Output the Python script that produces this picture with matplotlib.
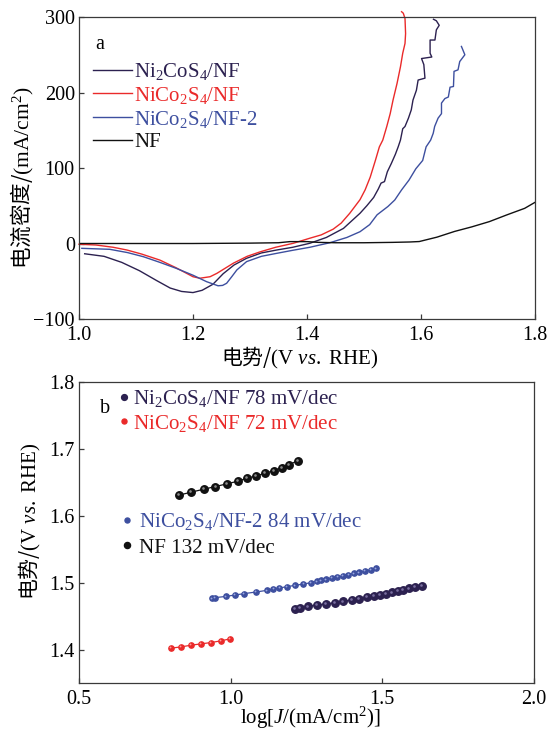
import matplotlib
matplotlib.use("Agg")
import matplotlib.pyplot as plt
from matplotlib.lines import Line2D
from matplotlib import transforms

plt.rcParams['font.family'] = ['Liberation Serif', 'Noto Sans CJK SC']
plt.rcParams['mathtext.fontset'] = 'custom'
plt.rcParams['mathtext.rm'] = 'Liberation Serif'
plt.rcParams['mathtext.it'] = 'Liberation Serif:italic'
plt.rcParams['font.size'] = 14.5
plt.rcParams['axes.unicode_minus'] = True

PURPLE = '#2c2150'
RED = '#ea2a2a'
BLUE = '#3d4f9f'
BLACK = '#111111'

# ---------- panel a: polarisation curves ----------
ni2cos4_v = [1.010, 1.044, 1.075, 1.106, 1.136, 1.160, 1.180, 1.200, 1.216, 1.235,
             1.253, 1.272, 1.294, 1.320, 1.347, 1.375, 1.405, 1.434, 1.464, 1.493,
             1.505, 1.517, 1.525, 1.530, 1.536, 1.541, 1.548, 1.555, 1.560, 1.564,
             1.568, 1.572, 1.578, 1.583, 1.586, 1.592, 1.595, 1.607, 1.605, 1.601,
             1.619, 1.616, 1.616, 1.6245, 1.627, 1.632, 1.627, 1.622]
ni2cos4_j = [-13.6, -17, -25, -36, -49, -59, -63.5, -65, -62, -54,
             -40, -28.5, -19.6, -12.5, -8.6, -5, 0.3, 8, 20, 40,
             50, 61, 72, 80, 82, 95, 106, 118, 128, 137,
             152, 155, 166, 177, 190, 203, 216.5, 219, 237, 245,
             247, 252, 269.5, 269.5, 283, 289, 295, 297]

nico2s4_v = [1.000, 1.030, 1.060, 1.084, 1.110, 1.142, 1.170, 1.200, 1.212, 1.230,
             1.242, 1.256, 1.271, 1.295, 1.318, 1.345, 1.376, 1.405, 1.425, 1.446,
             1.460, 1.475, 1.493, 1.502, 1.511, 1.520, 1.527, 1.533, 1.540, 1.546,
             1.551, 1.558, 1.564, 1.568, 1.572, 1.573, 1.572, 1.569, 1.566]
nico2s4_j = [-1, -2, -5, -8.6, -14, -22, -32, -44, -46, -44,
             -39.5, -33, -26, -17, -11, -5, 0.3, 7, 11.4, 19,
             27, 40, 58, 71, 88, 110, 128, 137, 155, 172,
             190, 212, 234, 252, 265, 278, 298, 305, 307]

nico2s4_2_v = [1.005, 1.054, 1.085, 1.113, 1.142, 1.171, 1.200, 1.224, 1.244, 1.252,
               1.259, 1.268, 1.277, 1.294, 1.320, 1.347, 1.375, 1.405, 1.440, 1.470,
               1.493, 1.510, 1.523, 1.542, 1.554, 1.566, 1.579, 1.591, 1.603, 1.609,
               1.617, 1.6215, 1.624, 1.630, 1.636, 1.636, 1.642, 1.648, 1.651, 1.657,
               1.658, 1.665, 1.668, 1.677, 1.671]
nico2s4_2_j = [-6.4, -7.7, -12, -17.5, -25, -33, -42, -50.6, -56, -55.5,
               -52.7, -44, -35, -24, -17, -13, -9, -5, 1, 8,
               15.6, 25, 38, 49, 57.6, 71, 84, 99, 110, 128,
               137, 146, 155, 166, 172, 186, 192, 194, 207, 208,
               228, 230, 241, 250, 261]

nf_v = [1.000, 1.100, 1.200, 1.300, 1.350, 1.370, 1.400, 1.420, 1.450, 1.500,
        1.550, 1.580, 1.597, 1.628, 1.659, 1.689, 1.720, 1.751, 1.782, 1.800]
nf_j = [0, 0, 0, 0.5, 1, 2.5, 2.5, 1.5, 1, 1,
        1.5, 2, 2.6, 8.4, 16, 22, 29, 38, 46.6, 54.5]

# ---------- panel b: Tafel plots ----------
tafel_ni2cos4_x = [1.212, 1.229, 1.256, 1.284, 1.314, 1.344, 1.371, 1.399, 1.424, 1.449,
                   1.471, 1.492, 1.512, 1.531, 1.551, 1.569, 1.589, 1.608, 1.630]
tafel_ni2cos4_y = [1.4612, 1.4627, 1.4646, 1.4667, 1.4682, 1.4701, 1.4721, 1.4742, 1.4761, 1.4781,
                   1.4796, 1.4816, 1.4836, 1.4855, 1.4876, 1.4896, 1.4915, 1.4936, 1.4955]

tafel_nico2s4_x = [0.802, 0.836, 0.868, 0.901, 0.934, 0.967, 0.998]
tafel_nico2s4_y = [1.4020, 1.4040, 1.4064, 1.4085, 1.4104, 1.4130, 1.4160]

tafel_nico2s4_2_x = [0.938, 0.948, 0.985, 1.014, 1.044, 1.084, 1.119, 1.141, 1.161, 1.185,
                     1.212, 1.240, 1.264, 1.284, 1.298, 1.314, 1.333, 1.352, 1.369, 1.388,
                     1.407, 1.424, 1.443, 1.462, 1.479]
tafel_nico2s4_2_y = [1.4766, 1.4776, 1.4795, 1.4816, 1.4836, 1.4861, 1.4885, 1.4906, 1.4921, 1.4940,
                     1.4960, 1.4980, 1.5000, 1.5020, 1.5034, 1.5049, 1.5070, 1.5085, 1.5100, 1.5120,
                     1.5139, 1.5154, 1.5175, 1.5194, 1.5213]

tafel_nf_x = [0.830, 0.870, 0.912, 0.950, 0.988, 1.024, 1.054, 1.084, 1.114, 1.143,
              1.169, 1.192, 1.221]
tafel_nf_y = [1.6309, 1.6354, 1.6398, 1.6438, 1.6478, 1.6518, 1.6562, 1.6597, 1.6637, 1.6676,
              1.6720, 1.6760, 1.6826]

labels_a = [r'Ni$_2$CoS$_4$/NF', r'NiCo$_2$S$_4$/NF', r'NiCo$_2$S$_4$/NF-2', 'NF']
labels_b1 = [r'Ni$_2$CoS$_4$/NF 78 mV/dec', r'NiCo$_2$S$_4$/NF 72 mV/dec']
labels_b2 = [r'NiCo$_2$S$_4$/NF-2 84 mV/dec', 'NF 132 mV/dec']

fig = plt.figure(figsize=(5.47, 7.33), dpi=100)
ax1 = fig.add_axes([0.1444, 0.5648, 0.8336, 0.412])
ax2 = fig.add_axes([0.1444, 0.0682, 0.8318, 0.4106])

for ax in (ax1, ax2):
    for s in ax.spines.values():
        s.set_color('#3a3a3a')
        s.set_linewidth(0.9)
    ax.tick_params(direction='in', length=3.5, width=0.9, color='#3a3a3a',
                   labelsize=14.5)
    ax.tick_params(axis='x', pad=5)
    ax.tick_params(axis='y', pad=3)

# panel a
l1, = ax1.plot(ni2cos4_v, ni2cos4_j, color=PURPLE, lw=1.0, clip_on=False)
l2, = ax1.plot(nico2s4_v, nico2s4_j, color=RED, lw=1.0, clip_on=False)
l3, = ax1.plot(nico2s4_2_v, nico2s4_2_j, color=BLUE, lw=1.0, clip_on=False)
l4, = ax1.plot(nf_v, nf_j, color=BLACK, lw=1.0)
ax1.set_xlim(1.0, 1.8)
ax1.set_ylim(-100, 300)
ax1.set_xticks([1.0, 1.2, 1.4, 1.6, 1.8])
ax1.set_yticks([-100, 0, 100, 200, 300])
ax1.xaxis.set_major_formatter(plt.FormatStrFormatter('%.1f'))
ax1.set_xlabel('电势/$\\mathrm{(V\\ }\\mathit{vs}\\mathrm{.\\ RHE)}$', va='center',
               family=['Noto Sans CJK SC'], fontsize=15)
ax1.xaxis.set_label_coords(0.4846, -0.129)
ax1.set_ylabel('电流密度/$\\mathrm{(mA/cm^2)}$', va='center', family=['Noto Sans CJK SC'],
               fontsize=15.5)
ax1.yaxis.set_label_coords(-0.1235, 0.4685)
ax1.text(0.046, 0.909, 'a', transform=ax1.transAxes, ha='center', va='center')
ax1.legend([l1, l2, l3, l4], labels_a, loc='upper left', bbox_to_anchor=(0.03, 0.855),
           frameon=False, handlelength=1.9, handletextpad=0.1, labelspacing=0.14,
           borderaxespad=0, borderpad=0, labelcolor='linecolor', fontsize=15)

# panel b
series_b = [
    (tafel_ni2cos4_x, tafel_ni2cos4_y, PURPLE, '#7a6fa0', 5.4),
    (tafel_nico2s4_x, tafel_nico2s4_y, RED, '#ff9a9a', 3.8),
    (tafel_nico2s4_2_x, tafel_nico2s4_2_y, BLUE, '#9aa6e0', 3.8),
    (tafel_nf_x, tafel_nf_y, BLACK, '#8a8a8a', 5.4),
]
hl = transforms.offset_copy(ax2.transData, fig=fig, x=-0.6, y=0.6, units='points')
for xs, ys, c, hc, ms in series_b:
    ax2.plot(xs, ys, color=c, lw=0.9, marker='o', ms=ms, mec=c, mfc=c)
    ax2.plot(xs, ys, ls='none', marker='o', ms=ms * 0.35, mfc=hc, mec='none',
             transform=hl)
ax2.set_xlim(0.5, 2.0)
ax2.set_ylim(1.35, 1.8)
ax2.set_xticks([0.5, 1.0, 1.5, 2.0])
ax2.set_yticks([1.4, 1.5, 1.6, 1.7, 1.8])
ax2.xaxis.set_major_formatter(plt.FormatStrFormatter('%.1f'))
ax2.yaxis.set_major_formatter(plt.FormatStrFormatter('%.1f'))
ax2.set_xlabel('$\\mathrm{log[}\\mathit{J}\\mathrm{/(mA/cm^2)]}$', va='center', fontsize=15)
ax2.xaxis.set_label_coords(0.509, -0.116)
ax2.set_ylabel('电势/$\\mathrm{(V\\ }\\mathit{vs}\\mathrm{.\\ RHE)}$', va='center',
               family=['Noto Sans CJK SC'], fontsize=15)
ax2.yaxis.set_label_coords(-0.108, 0.536)
ax2.text(0.057, 0.9136, 'b', transform=ax2.transAxes, ha='center', va='center')

h_pu = Line2D([], [], ls='none', marker='o', ms=4.2, color=PURPLE)
h_re = Line2D([], [], ls='none', marker='o', ms=3.6, color=RED)
h_bl = Line2D([], [], ls='none', marker='o', ms=3.6, color=BLUE)
h_bk = Line2D([], [], ls='none', marker='o', ms=4.4, color=BLACK)
leg1 = ax2.legend([h_pu, h_re], labels_b1, loc='upper left', bbox_to_anchor=(0.085, 0.98),
                  frameon=False, handlelength=0.6, handletextpad=0.15, labelspacing=0.17,
                  borderaxespad=0, borderpad=0, labelcolor='markerfacecolor', fontsize=15.1)
ax2.add_artist(leg1)
ax2.legend([h_bl, h_bk], labels_b2, loc='upper left', bbox_to_anchor=(0.092, 0.571),
           frameon=False, handlelength=0.6, handletextpad=0.25, labelspacing=0.28,
           borderaxespad=0, borderpad=0, labelcolor='markerfacecolor', fontsize=15.1)

fig.savefig('out.png', dpi=100)
